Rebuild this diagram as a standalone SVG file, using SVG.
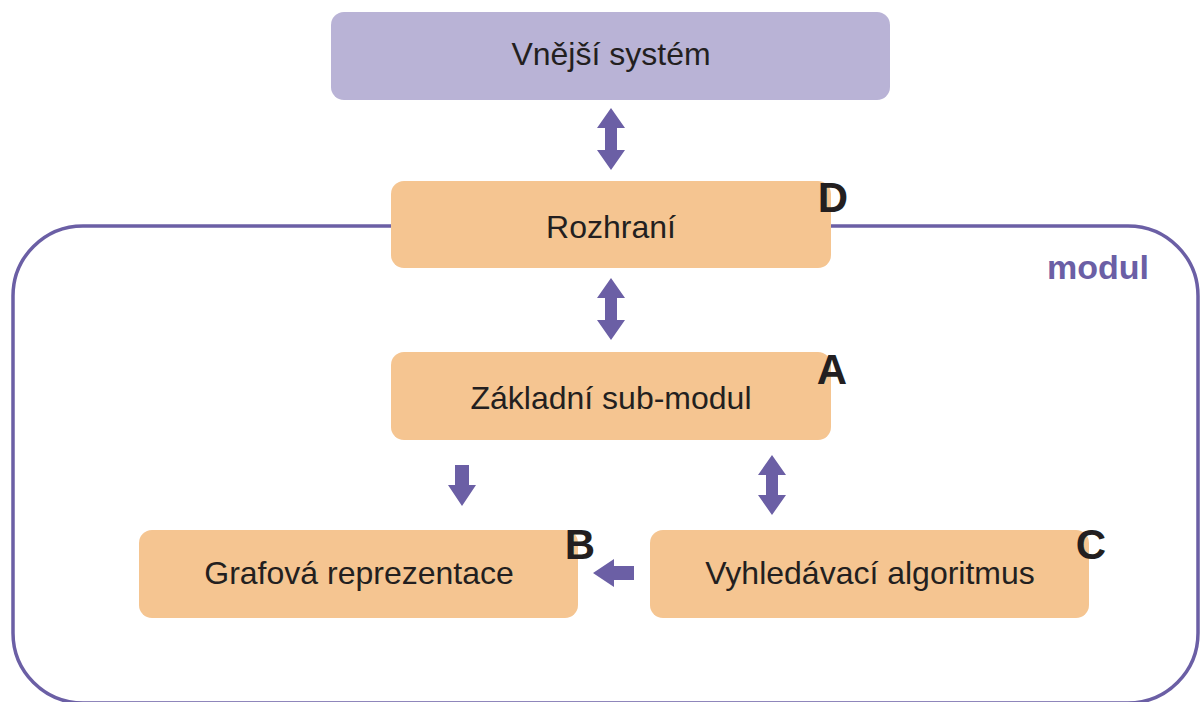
<svg xmlns="http://www.w3.org/2000/svg" width="1200" height="702" viewBox="0 0 1200 702">
<style>
.box{fill:#f5c591}
.ext{fill:#b9b3d6}
.t{font-family:"Liberation Sans",Arial,sans-serif;font-size:32px;fill:#231f20;text-anchor:middle}
.l{font-family:"Liberation Sans",Arial,sans-serif;font-size:42px;font-weight:bold;fill:#231f20;text-anchor:middle}
.arr{fill:#6b5fa5}
</style>
<g id="module">
<rect x="13" y="226" width="1185" height="477" rx="70" fill="none" stroke="#6b5fa5" stroke-width="3.5"/>
<text x="1098" y="279" font-family="Liberation Sans,Arial,sans-serif" font-size="34" font-weight="bold" fill="#6b5fa5" text-anchor="middle">modul</text>
</g>
<g id="ext"><rect class="ext" x="331" y="12" width="559" height="88" rx="13"/><text class="t" x="611" y="65">Vnější systém</text></g>
<g id="rozhrani"><rect class="box" x="391" y="181" width="440" height="87" rx="13"/><text class="t" x="611" y="238">Rozhraní</text><text class="l" x="833" y="212">D</text></g>
<g id="zakladni"><rect class="box" x="391" y="352" width="440" height="88" rx="13"/><text class="t" x="611" y="409">Základní sub-modul</text><text class="l" x="832" y="384">A</text></g>
<g id="grafova"><rect class="box" x="139" y="530" width="439" height="88" rx="13"/><text class="t" x="359" y="584">Grafová reprezentace</text><text class="l" x="580" y="559">B</text></g>
<g id="vyhledavaci"><rect class="box" x="650" y="530" width="439" height="88" rx="13"/><text class="t" x="870" y="584">Vyhledávací algoritmus</text><text class="l" x="1091" y="559">C</text></g>
<g id="connectors">
<polygon class="arr" points="611,108 625,128 617,128 617,150 625,150 611,170 597,150 605,150 605,128 597,128"/>
<polygon class="arr" points="611,278 625,298 617,298 617,320 625,320 611,340 597,320 605,320 605,298 597,298"/>
<polygon class="arr" points="455,465 469,465 469,485 476,485 462,506 448,485 455,485"/>
<polygon class="arr" points="772,455 786,475 778,475 778,495 786,495 772,515 758,495 766,495 766,475 758,475"/>
<polygon class="arr" points="593,573 614,559 614,566 634,566 634,580 614,580 614,587"/>
</g>
</svg>
